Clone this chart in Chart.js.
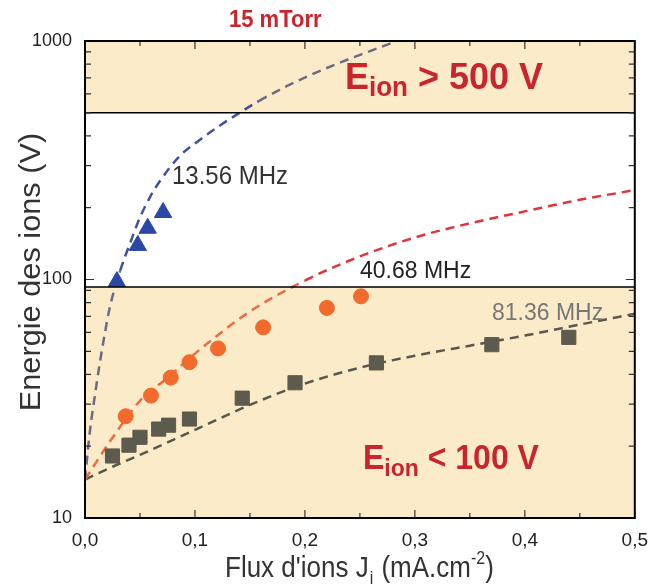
<!DOCTYPE html>
<html>
<head>
<meta charset="utf-8">
<script src="https://cdn.jsdelivr.net/npm/chart.js"></script>
<style>
body{margin:0;background:#fff}
</style>
</head>
<body>
<canvas id="myChart" width="651" height="587"></canvas>
<script>
// mesures (points)
let triX=[0.029,0.048,0.057,0.071]
let triY=[98,139,164,191]
let cirX=[0.037,0.060,0.078,0.095,0.121,0.162,0.220,0.251]
let cirY=[26.7,32.6,38.8,45,51.4,63,76,85]
let sqX=[0.025,0.040,0.050,0.067,0.076,0.095,0.143,0.191,0.265,0.370,0.440]
let sqY=[18.2,20.2,21.8,23.6,24.5,26,31.8,36.9,44.7,53.3,57.2]

// courbes en tirets
let fit13X=[0,0.0045,0.009,0.0135,0.018,0.0225,0.032,0.041,0.05,0.059,0.068,0.086,0.104,0.122,0.14,0.158,0.181,0.204,0.231,0.258,0.281,0.29]
let fit13Y=[14.5,23.2,32.6,44.8,59.3,76.2,109,142,182,221,258,329,384,440,498,560,638,716,809,903,990,1030]
let fit40X=[0,0.025,0.05,0.075,0.10,0.15,0.20,0.25,0.30,0.35,0.40,0.45,0.50]
let fit40Y=[14.5,21.7,31,38.7,48.9,73.4,99,125,150,172,193,216,237]
let fit81X=[0,0.025,0.05,0.10,0.15,0.20,0.25,0.30,0.35,0.40,0.45,0.50]
let fit81Y=[14.5,16.4,18.4,23.4,29.8,36.6,42.7,47.9,52.8,58.2,64.7,71.9]

let yTicks=[10,20,30,40,50,60,70,80,90,100,200,300,400,500,600,700,800,900,1000]
let yMajor=[10,100,1000]
let highBand=[500,1000]
let lowBand=[10,93]

let font='"Liberation Sans", Arial, sans-serif'
let red='#c9252c'

function pts(xs,ys){
  let out=[]
  for(let i=0;i<xs.length;i++){
    out.push({x:xs[i],y:ys[i]})
  }
  return out
}

function txt(ctx,s,x,y,f,color,sy){
  ctx.save()
  ctx.font=f
  ctx.fillStyle=color
  let w=ctx.measureText(s).width
  ctx.translate(x,y)
  ctx.scale(1,sy)
  ctx.fillText(s,0,0)
  ctx.restore()
  return w
}

function eion(ctx,x,y,rest,size,sy){
  let w=txt(ctx,'E',x,y,'bold '+size+'px '+font,red,sy)
  w+=txt(ctx,'ion',x+w,y+7,'bold '+Math.round(size*0.72)+'px '+font,red,sy)
  txt(ctx,rest,x+w,y,'bold '+size+'px '+font,red,sy)
}

const deco={
  id:'deco',
  beforeDatasetsDraw(chart){
    let {ctx,chartArea:a,scales:{x,y}}=chart
    ctx.save()
    ctx.fillStyle='#fcebc8'
    let t=y.getPixelForValue(highBand[1]),b=y.getPixelForValue(highBand[0])
    ctx.fillRect(a.left,t,a.right-a.left,b-t)
    t=y.getPixelForValue(lowBand[1]);b=y.getPixelForValue(lowBand[0])
    ctx.fillRect(a.left,t,a.right-a.left,b-t)
    ctx.restore()
  },
  afterDatasetsDraw(chart){
    let {ctx,chartArea:a,scales:{x,y}}=chart
    ctx.save()
    ctx.strokeStyle='#000'
    ctx.lineWidth=1.5
    let l1=y.getPixelForValue(highBand[0]),l2=y.getPixelForValue(lowBand[1])
    ctx.beginPath()
    ctx.moveTo(a.left,l1);ctx.lineTo(a.right,l1)
    ctx.moveTo(a.left,l2);ctx.lineTo(a.right,l2)
    ctx.stroke()

    // graduations vers l'interieur
    ctx.lineWidth=1.2
    ctx.strokeStyle='#333'
    ctx.beginPath()
    y.ticks.forEach(t=>{
      let p=y.getPixelForValue(t.value)
      let len=yMajor.includes(t.value)?9:6
      ctx.moveTo(a.left,p);ctx.lineTo(a.left+len,p)
      ctx.moveTo(a.right,p);ctx.lineTo(a.right-len,p)
    })
    x.ticks.forEach((t,i)=>{
      let p=x.getPixelForValue(t.value)
      let len=i%2==0?8:5
      ctx.moveTo(p,a.bottom);ctx.lineTo(p,a.bottom-len)
      ctx.moveTo(p,a.top);ctx.lineTo(p,a.top+len)
    })
    ctx.stroke()

    ctx.strokeStyle='#000'
    ctx.lineWidth=2
    ctx.strokeRect(a.left,a.top,a.right-a.left,a.bottom-a.top)
    ctx.restore()

    txt(ctx,'15 mTorr',229,27,'bold 22px '+font,red,1.1)
    eion(ctx,345,89,' > 500 V',36,1.03)
    eion(ctx,363,469,' < 100 V',32,1.08)
    txt(ctx,'13.56 MHz',172,184,'24px '+font,'#333',1.05)
    txt(ctx,'40.68 MHz',360,278,'23px '+font,'#222',1.05)
    txt(ctx,'81.36 MHz',492,320,'23px '+font,'#777',1.05)

    // titre axe y
    ctx.save()
    ctx.font='29px '+font
    ctx.fillStyle='#333'
    ctx.translate(40,272)
    ctx.rotate(-Math.PI/2)
    ctx.scale(1.06,1)
    ctx.textAlign='center'
    ctx.fillText('Energie des ions (V)',0,0)
    ctx.restore()

    // titre axe x
    let xx=225,by=577,c='#333'
    xx+=txt(ctx,"Flux d'ions J",xx,by,'26px '+font,c,1.1)
    xx+=txt(ctx,'i',xx+1,by+7,'16px '+font,c,1.1)+2
    xx+=txt(ctx,' (mA.cm',xx,by,'26px '+font,c,1.1)
    xx+=txt(ctx,'-2',xx,by-13,'16px '+font,c,1.1)
    txt(ctx,')',xx,by,'26px '+font,c,1.1)
  }
}

const ctx=document.getElementById('myChart')

new Chart(ctx,{
  type:'scatter',
  data:{
    datasets:[
      {data:pts(triX,triY),pointStyle:'triangle',pointRadius:10,backgroundColor:'#2a47a6',borderColor:'#2a47a6'},
      {data:pts(cirX,cirY),pointStyle:'circle',pointRadius:7.5,backgroundColor:'#f26a2c',borderColor:'#f26a2c'},
      {data:pts(sqX,sqY),pointStyle:'rect',pointRadius:10,backgroundColor:'#5d5a4e',borderColor:'#5d5a4e'},
      {data:pts(fit13X,fit13Y),showLine:true,pointRadius:0,borderWidth:2.5,borderDash:[9,6],cubicInterpolationMode:'monotone',
        segment:{borderColor:s=>(s.p0.parsed.y>500||s.p0.parsed.y<93)?'#6c6a84':'#3d52a0'}},
      {data:pts(fit40X,fit40Y),showLine:true,pointRadius:0,borderWidth:2.5,borderDash:[9,6],cubicInterpolationMode:'monotone',
        segment:{borderColor:s=>s.p0.parsed.y<93?'#ee6a42':'#e0343a'}},
      {data:pts(fit81X,fit81Y),showLine:true,pointRadius:0,borderWidth:2.5,borderDash:[9,6],cubicInterpolationMode:'monotone',borderColor:'#5a574c'}
    ]
  },
  options:{
    responsive:false,
    animation:false,
    devicePixelRatio:1,
    layout:{padding:{top:41,right:14,left:0,bottom:0}},
    plugins:{legend:{display:false},tooltip:{enabled:false}},
    scales:{
      x:{
        type:'linear',min:0,max:0.5,
        grid:{display:false},border:{display:false},
        ticks:{stepSize:0.05,autoSkip:false,maxRotation:0,padding:3,color:'#222',font:{size:19,family:font},
          callback:(v,i)=>i%2==0?v.toFixed(1).replace('.',','):''},
        afterFit:s=>{s.height=69}
      },
      y:{
        type:'logarithmic',min:10,max:1000,
        grid:{display:false},border:{display:false},
        afterBuildTicks:s=>{s.ticks=yTicks.map(v=>({value:v}))},
        ticks:{autoSkip:false,padding:5,color:'#222',font:{size:18,family:font},
          callback:v=>yMajor.includes(v)?String(v):''},
        afterFit:s=>{s.width=85}
      }
    }
  },
  plugins:[deco]
})
</script>
</body>
</html>
